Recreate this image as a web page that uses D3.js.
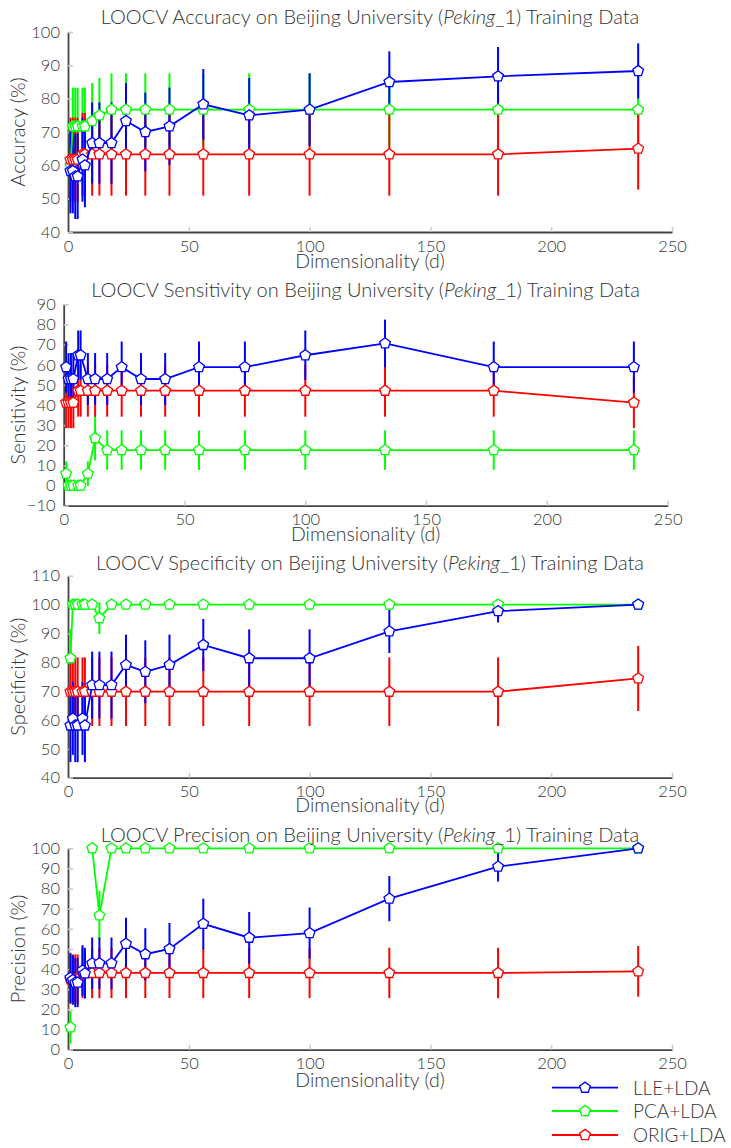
<!DOCTYPE html>
<html>
<head>
<meta charset="utf-8">
<script src="https://cdn.jsdelivr.net/npm/d3@7"></script>
<style>
  body { margin: 0; background: #fff; }
  svg text { font-family: "Lato", "DejaVu Sans", sans-serif; font-weight: 300; fill: #333; }
  .tick line { stroke: #c8c8c8; stroke-width: 1.5; }
  .domain { stroke: #444; stroke-width: 1.8; }
</style>
</head>
<body>
<script>
// LOOCV results for LLE+LDA, PCA+LDA, ORIG+LDA vs dimensionality

const w = 731;
const h = 1148;

// dimensionality values (x)
const dims = [1, 2, 3, 4, 6, 7, 10, 13, 18, 24, 32, 42, 56, 75, 100, 133, 178, 236];
const seriesNames = ["LLE+LDA", "PCA+LDA", "ORIG+LDA"];
const xTicks = [0, 50, 100, 150, 200, 250];

// Accuracy (%)
const accLLE = [58.3, 58.3, 56.7, 56.7, 61.7, 60, 66.7, 66.7, 66.7, 73.3, 70, 71.7, 78.3, 75, 76.7, 85, 86.7, 88.3];
const accLLEErr = [12.7, 12.7, 12.8, 12.8, 12.6, 12.6, 12.2, 12.2, 12.2, 11.4, 11.8, 11.6, 10.6, 11.2, 10.9, 9.2, 8.8, 8.3];
const accPCA = [60, 71.7, 71.7, 71.7, 71.7, 71.7, 73.3, 75, 76.7, 76.7, 76.7, 76.7, 76.7, 76.7, 76.7, 76.7, 76.7, 76.7];
const accPCAErr = [12.6, 11.6, 11.6, 11.6, 11.6, 11.6, 11.4, 11.2, 10.9, 10.9, 10.9, 10.9, 10.9, 10.9, 10.9, 10.9, 10.9, 10.9];
const accORIG = [61.7, 61.7, 61.7, 61.7, 63.3, 63.3, 63.3, 63.3, 63.3, 63.3, 63.3, 63.3, 63.3, 63.3, 63.3, 63.3, 63.3, 65];
const accORIGErr = [12.6, 12.6, 12.6, 12.6, 12.4, 12.4, 12.4, 12.4, 12.4, 12.4, 12.4, 12.4, 12.4, 12.4, 12.4, 12.4, 12.4, 12.3];

// Sensitivity (%)
const senLLE = [58.8, 52.9, 52.9, 52.9, 64.7, 64.7, 52.9, 52.9, 52.9, 58.8, 52.9, 52.9, 58.8, 58.8, 64.7, 70.6, 58.8, 58.8];
const senLLEErr = [12.7, 12.9, 12.9, 12.9, 12.3, 12.3, 12.9, 12.9, 12.9, 12.7, 12.9, 12.9, 12.7, 12.7, 12.3, 11.8, 12.7, 12.7];
const senPCA = [5.9, 0, 0, 0, 0, 0, 5.9, 23.5, 17.6, 17.6, 17.6, 17.6, 17.6, 17.6, 17.6, 17.6, 17.6, 17.6];
const senPCAErr = [6.1, 0, 0, 0, 0, 0, 6.1, 11.0, 9.8, 9.8, 9.8, 9.8, 9.8, 9.8, 9.8, 9.8, 9.8, 9.8];
const senORIG = [41.2, 41.2, 41.2, 41.2, 47.1, 47.1, 47.1, 47.1, 47.1, 47.1, 47.1, 47.1, 47.1, 47.1, 47.1, 47.1, 47.1, 41.2];
const senORIGErr = [12.7, 12.7, 12.7, 12.7, 12.9, 12.9, 12.9, 12.9, 12.9, 12.9, 12.9, 12.9, 12.9, 12.9, 12.9, 12.9, 12.9, 12.7];

// Specificity (%)
const speLLE = [58.1, 60.5, 58.1, 58.1, 60.5, 58.1, 72.1, 72.1, 72.1, 79.1, 76.7, 79.1, 86.0, 81.4, 81.4, 90.7, 97.7, 100];
const speLLEErr = [12.7, 12.6, 12.7, 12.7, 12.6, 12.7, 11.6, 11.6, 11.6, 10.5, 10.9, 10.5, 9.0, 10.0, 10.0, 7.5, 3.9, 0];
const spePCA = [81.4, 100, 100, 100, 100, 100, 100, 95.3, 100, 100, 100, 100, 100, 100, 100, 100, 100, 100];
const spePCAErr = [10.0, 0, 0, 0, 0, 0, 0, 5.5, 0, 0, 0, 0, 0, 0, 0, 0, 0, 0];
const speORIG = [69.8, 69.8, 69.8, 69.8, 69.8, 69.8, 69.8, 69.8, 69.8, 69.8, 69.8, 69.8, 69.8, 69.8, 69.8, 69.8, 69.8, 74.4];
const speORIGErr = [11.9, 11.9, 11.9, 11.9, 11.9, 11.9, 11.9, 11.9, 11.9, 11.9, 11.9, 11.9, 11.9, 11.9, 11.9, 11.9, 11.9, 11.3];

// Precision (%) - null where undefined (no positive predictions)
const preLLE = [35.7, 34.6, 33.3, 33.3, 39.3, 37.9, 42.9, 42.9, 42.9, 52.6, 47.4, 50, 62.5, 55.6, 57.9, 75, 90.9, 100];
const preLLEErr = [12.4, 12.3, 12.2, 12.2, 12.6, 12.5, 12.8, 12.8, 12.8, 12.9, 12.9, 12.9, 12.5, 12.8, 12.7, 11.2, 7.4, 0];
const prePCA = [11.1, null, null, null, null, null, 100, 66.7, 100, 100, 100, 100, 100, 100, 100, 100, 100, 100];
const prePCAErr = [8.1, null, null, null, null, null, 0, 12.2, 0, 0, 0, 0, 0, 0, 0, 0, 0, 0];
const preORIG = [35, 35, 35, 35, 38.1, 38.1, 38.1, 38.1, 38.1, 38.1, 38.1, 38.1, 38.1, 38.1, 38.1, 38.1, 38.1, 38.9];
const preORIGErr = [12.3, 12.3, 12.3, 12.3, 12.5, 12.5, 12.5, 12.5, 12.5, 12.5, 12.5, 12.5, 12.5, 12.5, 12.5, 12.5, 12.5, 12.6];

const colors = { "LLE+LDA": "#0000ff", "PCA+LDA": "#00ff00", "ORIG+LDA": "#ff0000" };
const drawOrder = ["PCA+LDA", "ORIG+LDA", "LLE+LDA"];

// panel layout
const panels = [
  { metric: "Accuracy", yDomain: [40, 100], yTicks: d3.range(40, 101, 10),
    x0: 68, x1: 672, yB: 232, yT: 32, titleY: 24, xlabY: 268,
    vals: { "LLE+LDA": [accLLE, accLLEErr], "PCA+LDA": [accPCA, accPCAErr], "ORIG+LDA": [accORIG, accORIGErr] } },
  { metric: "Sensitivity", yDomain: [-10, 90], yTicks: d3.range(-10, 91, 10),
    x0: 63.7, x1: 667.7, yB: 505.7, yT: 304.3, titleY: 297, xlabY: 541,
    vals: { "LLE+LDA": [senLLE, senLLEErr], "PCA+LDA": [senPCA, senPCAErr], "ORIG+LDA": [senORIG, senORIGErr] } },
  { metric: "Specificity", yDomain: [40, 110], yTicks: d3.range(40, 111, 10),
    x0: 68, x1: 672, yB: 777.7, yT: 575.7, titleY: 570, xlabY: 812,
    vals: { "LLE+LDA": [speLLE, speLLEErr], "PCA+LDA": [spePCA, spePCAErr], "ORIG+LDA": [speORIG, speORIGErr] } },
  { metric: "Precision", yDomain: [0, 100], yTicks: d3.range(0, 101, 10),
    x0: 68, x1: 672, yB: 1049.7, yT: 848.3, titleY: 842, xlabY: 1087,
    vals: { "LLE+LDA": [preLLE, preLLEErr], "PCA+LDA": [prePCA, prePCAErr], "ORIG+LDA": [preORIG, preORIGErr] } }
];

// pentagon marker path
const pentR = 5.6;
const pentagon = d3.lineRadial()
  .curve(d3.curveLinearClosed)(d3.range(5).map(i => [i * 2 * Math.PI / 5, pentR]));

const svg = d3.select("body").append("svg")
  .attr("width", w)
  .attr("height", h);

panels.forEach(p => {
  const xScale = d3.scaleLinear().domain([0, 250]).range([p.x0, p.x1]);
  const yScale = d3.scaleLinear().domain(p.yDomain).range([p.yB, p.yT]);
  const g = svg.append("g");

  // axes (ticks point inward)
  g.append("g")
    .attr("transform", "translate(0," + p.yB + ")")
    .call(d3.axisBottom(xScale).tickValues(xTicks).tickSizeInner(-5).tickSizeOuter(0).tickPadding(8))
    .call(a => a.selectAll("text").style("font-size", "16.5px").attr("fill", "#333"));
  g.append("g")
    .attr("transform", "translate(" + p.x0 + ",0)")
    .call(d3.axisLeft(yScale).tickValues(p.yTicks).tickSizeInner(-5).tickSizeOuter(0).tickPadding(8))
    .call(a => a.selectAll("text").style("font-size", "16.5px").attr("fill", "#333"));

  // error bars first
  drawOrder.forEach(name => {
    const [v, e] = p.vals[name];
    const pts = dims.map((d, i) => ({ d: d, v: v[i], e: e[i] })).filter(o => o.v !== null && o.e > 0);
    g.append("g").selectAll("line").data(pts).join("line")
      .attr("x1", o => xScale(o.d)).attr("x2", o => xScale(o.d))
      .attr("y1", o => yScale(o.v - o.e)).attr("y2", o => yScale(o.v + o.e))
      .attr("stroke", colors[name]).attr("stroke-width", 2);
  });

  // lines and markers
  drawOrder.forEach(name => {
    const [v] = p.vals[name];
    const pts = dims.map((d, i) => ({ d: d, v: v[i] }));
    const line = d3.line()
      .defined(o => o.v !== null)
      .x(o => xScale(o.d))
      .y(o => yScale(o.v));
    g.append("path")
      .datum(pts)
      .attr("d", line)
      .attr("fill", "none")
      .attr("stroke", colors[name])
      .attr("stroke-width", 1.8);
    g.append("g").selectAll("path").data(pts.filter(o => o.v !== null)).join("path")
      .attr("d", pentagon)
      .attr("transform", o => "translate(" + xScale(o.d) + "," + yScale(o.v) + ")")
      .attr("fill", "#fff")
      .attr("stroke", colors[name])
      .attr("stroke-width", 1.3);
  });

  // title
  const cx = (p.x0 + p.x1) / 2;
  const title = g.append("text")
    .attr("x", cx).attr("y", p.titleY)
    .attr("text-anchor", "middle")
    .style("font-size", "20px");
  title.append("tspan").text("LOOCV " + p.metric + " on Beijing University (");
  title.append("tspan").style("font-style", "italic").text("Peking");
  title.append("tspan").text("_1) Training Data");

  // axis labels
  g.append("text")
    .attr("x", cx).attr("y", p.xlabY)
    .attr("text-anchor", "middle")
    .style("font-size", "19.5px")
    .text("Dimensionality (d)");
  g.append("text")
    .attr("transform", "translate(25," + ((p.yB + p.yT) / 2) + ") rotate(-90)")
    .attr("text-anchor", "middle")
    .style("font-size", "20px")
    .text(p.metric + " (%)");
});

// legend
const legendY = [1087.7, 1111, 1135];
seriesNames.forEach((name, i) => {
  const lg = svg.append("g").attr("transform", "translate(0," + legendY[i] + ")");
  lg.append("line").attr("x1", 552).attr("x2", 618).attr("y1", 0).attr("y2", 0)
    .attr("stroke", colors[name]).attr("stroke-width", 1.8);
  lg.append("path").attr("d", pentagon).attr("transform", "translate(585,0)")
    .attr("fill", "#fff").attr("stroke", colors[name]).attr("stroke-width", 1.3);
  lg.append("text").attr("x", 633).attr("y", 7)
    .style("font-size", "19px")
    .text(name);
});
</script>
</body>
</html>
